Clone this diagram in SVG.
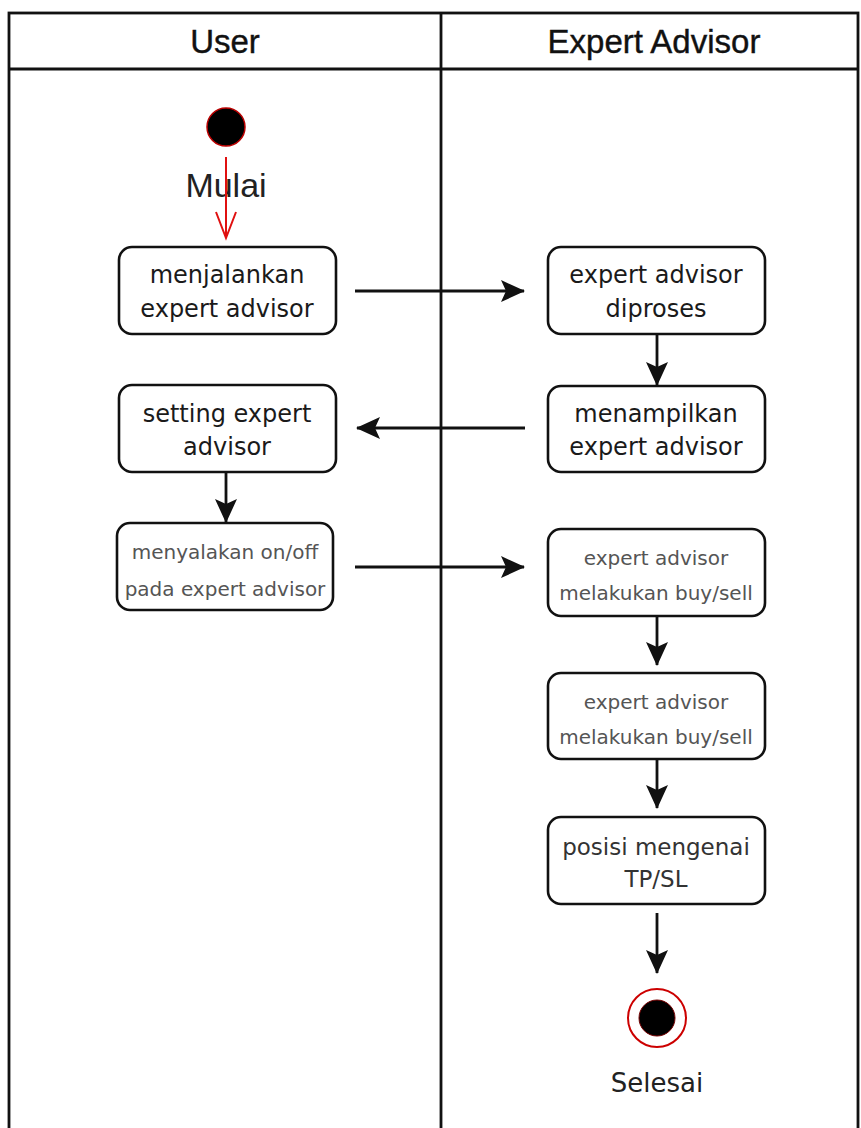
<svg xmlns="http://www.w3.org/2000/svg" width="861" height="1128" viewBox="0 0 861 1128">
<style>
.lane{fill:none;stroke:#111;stroke-width:2.8}
.box{fill:#fff;stroke:#111;stroke-width:2.6}
.hdr{font-family:"Liberation Sans",Arial,sans-serif;font-size:33px;fill:#111;stroke:#111;stroke-width:0.4;text-anchor:middle}
.t{font-family:"DejaVu Sans",Verdana,sans-serif;font-size:24px;fill:#1a1a1a;text-anchor:middle}
.ts{font-family:"DejaVu Sans",Verdana,sans-serif;font-size:20px;fill:#555;text-anchor:middle}
.tm{font-family:"DejaVu Sans",Verdana,sans-serif;font-size:23px;fill:#333;text-anchor:middle}
.lbl{font-family:"Liberation Sans",Arial,sans-serif;font-size:34px;fill:#222;text-anchor:middle}
.lbl2{font-family:"DejaVu Sans",Verdana,sans-serif;font-size:26px;fill:#222;text-anchor:middle}
.conn{fill:none;stroke:#111;stroke-width:2.8;marker-end:url(#ah)}
</style>
<defs>
<marker id="ah" viewBox="0 0 24 24" refX="23" refY="12" markerWidth="24" markerHeight="24" markerUnits="userSpaceOnUse" orient="auto">
<path d="M0,1 L24,12 L0,23 L5,12 Z" fill="#111"/>
</marker>
</defs>
<rect width="861" height="1128" fill="#fff"/>
<g id="lanes">
<rect class="lane" x="9" y="13" width="849" height="1130"/>
<line class="lane" x1="9" y1="69" x2="858" y2="69"/>
<line class="lane" x1="441" y1="13" x2="441" y2="1128"/>
<text class="hdr" x="225" y="53">User</text>
<text class="hdr" x="654" y="53">Expert Advisor</text>
</g>
<g id="start">
<circle cx="226" cy="127" r="19" fill="#000" stroke="#b00" stroke-width="1.5"/>
<text class="lbl" x="226" y="197">Mulai</text>
</g>
<g id="n1"><rect class="box" x="119" y="247" width="217" height="87" rx="13"/>
<text class="t" x="227" y="283">menjalankan</text><text class="t" x="227" y="317">expert advisor</text></g>
<g id="n2"><rect class="box" x="548" y="247" width="217" height="87" rx="13"/>
<text class="t" x="656" y="283">expert advisor</text><text class="t" x="656" y="317">diproses</text></g>
<g id="n3"><rect class="box" x="119" y="385" width="217" height="87" rx="13"/>
<text class="t" x="227" y="422">setting expert</text><text class="t" x="227" y="455">advisor</text></g>
<g id="n4"><rect class="box" x="548" y="386" width="217" height="86" rx="13"/>
<text class="t" x="656" y="422">menampilkan</text><text class="t" x="656" y="455">expert advisor</text></g>
<g id="n5"><rect class="box" x="117" y="523" width="216" height="87" rx="13"/>
<text class="ts" x="225" y="559">menyalakan on/off</text><text class="ts" x="225" y="596">pada expert advisor</text></g>
<g id="n6"><rect class="box" x="548" y="529" width="217" height="87" rx="13"/>
<text class="ts" x="656" y="565">expert advisor</text><text class="ts" x="656" y="600">melakukan buy/sell</text></g>
<g id="n7"><rect class="box" x="548" y="673" width="217" height="86" rx="13"/>
<text class="ts" x="656" y="709">expert advisor</text><text class="ts" x="656" y="744">melakukan buy/sell</text></g>
<g id="n8"><rect class="box" x="548" y="817" width="217" height="87" rx="13"/>
<text class="tm" x="656" y="855">posisi mengenai</text><text class="tm" x="656" y="887">TP/SL</text></g>
<g id="end">
<circle cx="657" cy="1018" r="29" fill="#fff" stroke="#c00" stroke-width="2"/>
<circle cx="657" cy="1018" r="18" fill="#000" stroke="#700" stroke-width="1"/>
<text class="lbl2" x="657" y="1092">Selesai</text>
</g>
<g id="connectors">
<line x1="226" y1="157" x2="226" y2="238" stroke="#e01010" stroke-width="2"/>
<polyline points="216,212 226,238 236,212" fill="none" stroke="#e01010" stroke-width="2"/>
<line class="conn" x1="355" y1="291" x2="524" y2="291"/>
<line class="conn" x1="525" y1="428" x2="357" y2="428"/>
<line class="conn" x1="657" y1="334" x2="657" y2="385"/>
<line class="conn" x1="226" y1="472" x2="226" y2="522"/>
<line class="conn" x1="355" y1="567" x2="524" y2="567"/>
<line class="conn" x1="657" y1="616" x2="657" y2="665"/>
<line class="conn" x1="657" y1="759" x2="657" y2="808"/>
<line class="conn" x1="657" y1="913" x2="657" y2="973"/>
</g>
</svg>
